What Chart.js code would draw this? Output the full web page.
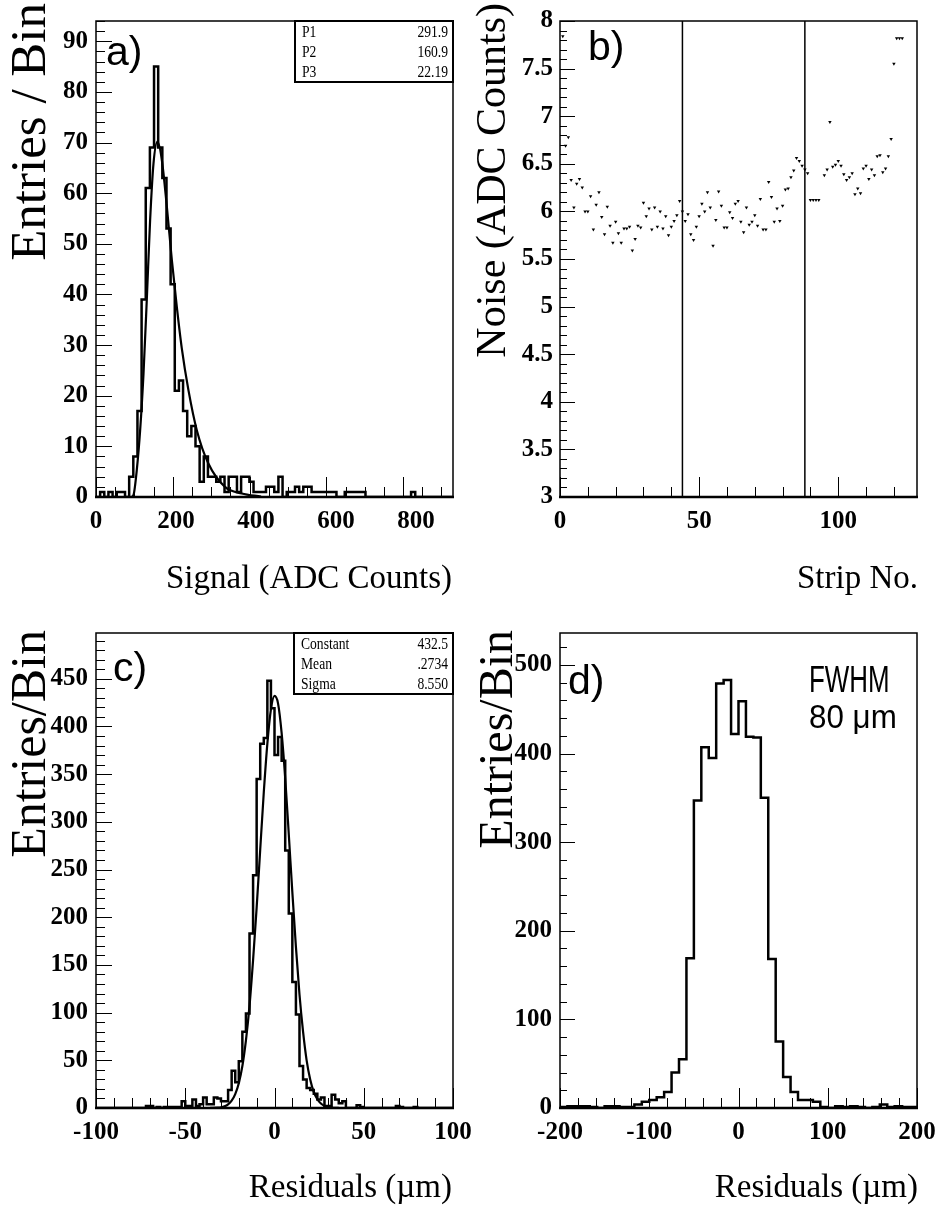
<!DOCTYPE html>
<html><head><meta charset="utf-8">
<script src="https://cdn.jsdelivr.net/npm/chart.js@4"></script>
<style>
html,body{margin:0;padding:0;background:#fff;}
#wrap{position:relative;width:940px;height:1218px;overflow:hidden;background:#fff;}
canvas{position:absolute;left:0;top:0;}
</style></head><body><div id="wrap">
<canvas id="ca" width="940" height="1218"></canvas>
<canvas id="cb" width="940" height="1218"></canvas>
<canvas id="cc" width="940" height="1218"></canvas>
<canvas id="cd" width="940" height="1218"></canvas>
</div>
<script>
// ---------- Panel a: signal spectrum ----------
const aBinStart = 0;
const aBinWidth = 10.8;
const aCounts = [0,0,1,0,1,0,1,1,0,4, 8,17,39,61,69,85,69,63,53,42, 21,23,17,12,14,10,3,8,4,4,
  3,4,1,4,4,1,4,4,3,1, 1,1,2,2,1,4,0,1,1,2, 1,2,2,1,1,1,1,1,1,0, 0,1,1,1,1,1,0,0,0,0,
  0,0,0,0,0,0,0,1,0,0, 0,0,0,0,0,0];
const aFitX = [92,98,106.6,115,123.8,132.6,141,149.8,160.2,171.6,184.6,197.6,210.6,223.6,240.8,262.6,292.8,336,379.6,430];
const aFitY = [0,0.5,5.6,13.2,24.4,39.5,54.7,65.9,70.2,66.5,57.3,46.8,37.5,29.3,21.1,13.2,6.6,2.0,0.7,0.1];
const aXTicks = [0,200,400,600,800];
const aYTicks = [0,10,20,30,40,50,60,70,80,90];
const aStatNames = ['P1','P2','P3'];
const aStatValues = ['291.9','160.9','22.19'];

// ---------- Panel b: noise per strip ----------
const bStrips = [1,2,3,4,5,6,7,8,9,10,11,12,13,14,15,16,17,18,19,20,21,22,23,24,25,26,27,28,29,30,
  31,32,33,34,35,36,37,38,39,40,41,42,43,44,45,46,47,48,49,50,51,52,53,54,55,56,57,58,59,60,
  61,62,63,64,65,66,67,68,69,70,71,72,73,74,75,76,77,78,79,80,81,82,83,84,85,86,87,88,89,90,
  91,92,93,94,95,96,97,98,99,100,101,102,103,104,105,106,107,108,109,110,111,112,113,114,115,116,117,118,119,120,
  121,122,123,124,125,126,127];
const bNoise = [7.84,6.69,6.78,6.33,6.04,6.29,6.34,6.25,6.00,6.00,6.16,5.81,6.07,6.20,5.94,5.76,6.05,5.85,5.67,5.89,
  5.77,5.67,5.82,5.82,5.84,5.59,5.71,5.85,5.83,6.09,5.95,6.03,5.81,6.04,5.84,6.00,5.82,5.95,5.75,5.84,
  5.90,5.96,6.11,6.00,5.90,5.97,5.76,5.70,5.84,5.95,6.08,6.00,6.20,6.04,5.64,5.91,6.21,6.06,5.83,5.83,
  5.99,5.93,6.08,6.11,5.89,5.78,6.04,5.86,5.89,5.96,5.85,6.13,5.81,5.81,6.31,6.15,5.89,6.03,5.90,6.06,
  6.23,6.24,6.36,6.43,6.56,6.53,6.48,6.44,6.40,6.12,6.12,6.12,6.12,3.0,6.38,6.44,6.94,6.47,6.49,6.53,
  6.48,6.39,6.33,6.36,6.40,6.18,6.24,6.19,6.45,6.48,6.34,6.44,6.38,6.58,6.59,6.41,6.45,6.58,6.76,7.55,
  7.82,7.82,7.82,3.0,3.0,3.0,3.0];
const bBoundaries = [44, 88];
const bXTicks = [0,50,100];
const bYTicks = [3,3.5,4,4.5,5,5.5,6,6.5,7,7.5,8];

// ---------- Panel c: residuals with gaussian fit ----------
const cBinStart = -100;
const cBinWidth = 2;
const cCounts = [0,0,0,0,0,0,0,0,0,0, 0,0,0,0,0,2,2,0,1,0, 1,1,1,1,1,7,2,2,9,2,
  4,11,4,4,11,10,7,7,19,39, 27,49,80,99,183,244,345,382,388,448, 419,370,389,364,270,204,132,98,44,30,
  21,19,15,9,11,2,2,14,9,5, 7,0,0,0,3,1,0,0,0,0, 0,0,0,0,0,2,1,0,0,0, 1,0,0,0,0,0,0,0,0,0];
const cFitX = [-36,-32,-30,-28,-26,-24,-22,-20,-18,-16,-14,-12,-10,-8,-6,-4,-2,0,2,4,6,8,10,12,14,16,18,20,22,24,26,28,30,32,36];
const cFitY = [0.1,0.4,0.8,1.8,3.9,7.7,14.6,26,44,71,107,155,210,271,331,382,418,432,424,393,346,287,226,169,119,80,50,30,17,9.2,4.7,2.2,1.0,0.4,0.1];
const cXTicks = [-100,-50,0,50,100];
const cYTicks = [0,50,100,150,200,250,300,350,400,450];
const cStatNames = ['Constant','Mean','Sigma'];
const cStatValues = ['432.5','.2734','8.550'];

// ---------- Panel d: residuals ----------
const dBinStart = -200;
const dBinWidth = 400/48;
const dCounts = [1,1,2,2,2,1,0,2,2,1, 1,4,7,9,12,18,40,55,169,347, 407,395,479,483,422,459,419,418,350,168,
  75,35,18,9,9,7,1,0,2,1, 2,1,0,1,4,1,2,1];
const dXTicks = [-200,-100,0,100,200];
const dYTicks = [0,100,200,300,400,500];

// ---------- helpers ----------
function stepPts(start, w, counts){
  const pts = [{x:start, y:0}];
  counts.forEach((c,i)=>pts.push({x:start+i*w, y:c}));
  pts.push({x:start+counts.length*w, y:counts[counts.length-1]});
  pts.push({x:start+counts.length*w, y:0});
  return pts;
}
function xy(xs, ys){ return xs.map((v,i)=>({x:v, y:ys[i]})); }

const SERIF = '"Liberation Serif", "Times New Roman", serif';
const SANS = '"Liberation Sans", Arial, sans-serif';
const YW = 80, XH = 50;

function axis(min, max, ticks, pad, isY, opts){
  opts = opts || {};
  return {
    type:'linear', min, max, position: isY ? 'left' : 'bottom',
    afterBuildTicks: s => { s.ticks = ticks.map(v=>({value:v})); },
    afterFit: s => {
      if (isY) { s.width = YW; s.paddingTop = 0; s.paddingBottom = 0; }
      else { s.height = opts.noLabels ? 0 : XH; s.paddingLeft = 0; s.paddingRight = 0; }
    },
    grid:{display:false, drawTicks:false}, border:{display:false},
    ticks:{display: !opts.noLabels, autoSkip:false, maxRotation:0, minRotation:0, padding:pad, color:'#000',
      font:{family:SERIF, size:25, weight:'bold'}, callback: v => String(v)}
  };
}

const deco = {
  id:'deco',
  afterDraw(chart, args, o){
    const ctx = chart.ctx, ca = chart.chartArea, sx = chart.scales.x, sy = chart.scales.y;
    ctx.save();
    ctx.strokeStyle = '#000'; ctx.lineWidth = 1;
    const eps = 1e-6;
    function ticksFor(scale, minor, major, lmaj, lmin, horiz){
      const start = Math.ceil((scale.min - eps)/minor)*minor;
      for (let v = start; v <= scale.max + eps; v += minor){
        const r = v/major, isMaj = Math.abs(r - Math.round(r)) < 1e-4;
        const L = isMaj ? lmaj : lmin;
        const p = Math.round(scale.getPixelForValue(v)) + 0.5;
        ctx.beginPath();
        if (horiz){ ctx.moveTo(p, ca.bottom); ctx.lineTo(p, ca.bottom - L); }
        else { ctx.moveTo(ca.left, p); ctx.lineTo(ca.left + L, p); }
        ctx.stroke();
      }
    }
    ticksFor(sx, o.xMinor, o.xMajor, 20, 10, true);
    ticksFor(sy, o.yMinor, o.yMajor, o.yMajLen, o.yMinLen, false);
    ctx.lineWidth = 1.5;
    ctx.strokeRect(ca.left, ca.top, ca.right-ca.left, ca.bottom-ca.top);
    ctx.lineWidth = 2.5;
    ctx.beginPath(); ctx.moveTo(ca.left-1, ca.bottom); ctx.lineTo(ca.right+1, ca.bottom); ctx.stroke();
    if (o.box){
      const b = o.box;
      ctx.fillStyle = '#fff';
      ctx.fillRect(b.x1, b.y1, b.x2-b.x1, b.y2-b.y1);
      ctx.fillStyle = '#000';
      ctx.font = '16px ' + SERIF;
      ctx.textBaseline = 'alphabetic';
      b.names.forEach((n,i)=>{
        ctx.save(); ctx.translate(b.x1+7, b.rows[i]); ctx.scale(0.85,1);
        ctx.textAlign='left'; ctx.fillText(n, 0, 0); ctx.restore();
        ctx.save(); ctx.translate(b.x2-5, b.rows[i]); ctx.scale(0.85,1);
        ctx.textAlign='right'; ctx.fillText(b.values[i], 0, 0); ctx.restore();
      });
      ctx.lineWidth = 2; ctx.strokeStyle = '#000';
      ctx.strokeRect(b.x1, b.y1, b.x2-b.x1, b.y2-b.y1);
    }
    ctx.fillStyle = '#000';
    (o.texts||[]).forEach(t=>{
      ctx.save();
      ctx.translate(t.x, t.y);
      if (t.rot) ctx.rotate(t.rot);
      if (t.sx) ctx.scale(t.sx, 1);
      ctx.font = t.font;
      ctx.textAlign = t.align || 'left';
      ctx.textBaseline = 'alphabetic';
      ctx.fillText(t.t, 0, 0);
      ctx.restore();
    });
    ctx.restore();
  }
};

function makeChart(id, area, scales, datasets, decoOpts){
  return new Chart(document.getElementById(id), {
    type:'scatter',
    data:{datasets},
    options:{
      responsive:false, animation:false, devicePixelRatio:1,
      layout:{padding:{left:area[0]-YW, top:area[1], right:940-area[2], bottom:1218-area[3]-XH}},
      plugins:{legend:{display:false}, tooltip:{enabled:false}, deco:decoOpts},
      scales
    },
    plugins:[deco]
  });
}

const histStyle = {showLine:true, stepped:'after', borderColor:'#000', borderWidth:2.5, pointRadius:0, fill:false};
const fitStyle = {showLine:true, borderColor:'#000', borderWidth:2.2, pointRadius:0, cubicInterpolationMode:'monotone', fill:false};
const ROT = -Math.PI/2;

// Panel a (tick labels placed on their own label axis, as in the original print)
makeChart('ca', [96,21,453,497],
  {x: axis(0, 930, aXTicks, 10, false, {noLabels:true}),
   xl: axis(0, 892.5, aXTicks, 10, false),
   y: axis(0, 94, aYTicks, 8, true)},
  [
    Object.assign({data: stepPts(aBinStart, aBinWidth, aCounts)}, histStyle),
    Object.assign({data: xy(aFitX, aFitY)}, fitStyle)
  ],
  {xMinor:50, xMajor:200, yMinor:2, yMajor:10, yMajLen:16, yMinLen:9,
   box:{x1:295, y1:21, x2:453, y2:82, rows:[37,57,77], names:aStatNames, values:aStatValues},
   texts:[
     {t:'a)', x:106, y:65, font:'41px '+SANS},
     {t:'Entries / Bin', x:45, y:3, rot:ROT, align:'right', font:'51px '+SERIF},
     {t:'Signal (ADC Counts)', x:452, y:588, align:'right', font:'33px '+SERIF}
   ]});

// Panel b
const bDatasets = [
  {data: xy(bStrips, bNoise), pointStyle:'triangle', rotation:180, pointRadius:2, pointBackgroundColor:'#000', pointBorderWidth:0, showLine:false}
];
bBoundaries.forEach(v => bDatasets.push({data:[{x:v,y:3},{x:v,y:8}], showLine:true, borderColor:'#000', borderWidth:1.5, pointRadius:0}));
makeChart('cb', [560,21,917,497],
  {x: axis(0, 128.3, bXTicks, 10, false), y: axis(3, 8, bYTicks, 7, true)},
  bDatasets,
  {xMinor:10, xMajor:50, yMinor:0.1, yMajor:0.5, yMajLen:15, yMinLen:7,
   texts:[
     {t:'b)', x:588, y:60, font:'41px '+SANS},
     {t:'Noise (ADC Counts)', x:505, y:3, rot:ROT, align:'right', font:'42px '+SERIF},
     {t:'Strip No.', x:918, y:588, align:'right', font:'33px '+SERIF}
   ]});

// Panel c
makeChart('cc', [96,633,453,1108],
  {x: axis(-100, 100, cXTicks, 10, false), y: axis(0, 498, cYTicks, 8, true)},
  [
    Object.assign({data: stepPts(cBinStart, cBinWidth, cCounts)}, histStyle),
    Object.assign({data: xy(cFitX, cFitY)}, fitStyle)
  ],
  {xMinor:10, xMajor:50, yMinor:10, yMajor:50, yMajLen:16, yMinLen:9,
   box:{x1:294, y1:633, x2:453, y2:694, rows:[649,669,689], names:cStatNames, values:cStatValues},
   texts:[
     {t:'c)', x:113, y:681, font:'41px '+SANS},
     {t:'Entries/Bin', x:45, y:630, rot:ROT, align:'right', font:'50px '+SERIF},
     {t:'Residuals (\u00b5m)', x:452, y:1197, align:'right', font:'33px '+SERIF}
   ]});

// Panel d
makeChart('cd', [560,633,917,1108],
  {x: axis(-200, 200, dXTicks, 10, false), y: axis(0, 536, dYTicks, 8, true)},
  [ Object.assign({data: stepPts(dBinStart, dBinWidth, dCounts)}, histStyle) ],
  {xMinor:20, xMajor:100, yMinor:20, yMajor:100, yMajLen:15, yMinLen:7,
   texts:[
     {t:'d)', x:568, y:694, font:'41px '+SANS},
     {t:'FWHM', x:809, y:692, sx:0.72, font:'36px '+SANS},
     {t:'80 \u03bcm', x:809, y:728, sx:0.95, font:'33px '+SANS},
     {t:'Entries/Bin', x:512, y:630, rot:ROT, align:'right', font:'48px '+SERIF},
     {t:'Residuals (\u00b5m)', x:918, y:1197, align:'right', font:'33px '+SERIF}
   ]});
</script>
</body></html>
